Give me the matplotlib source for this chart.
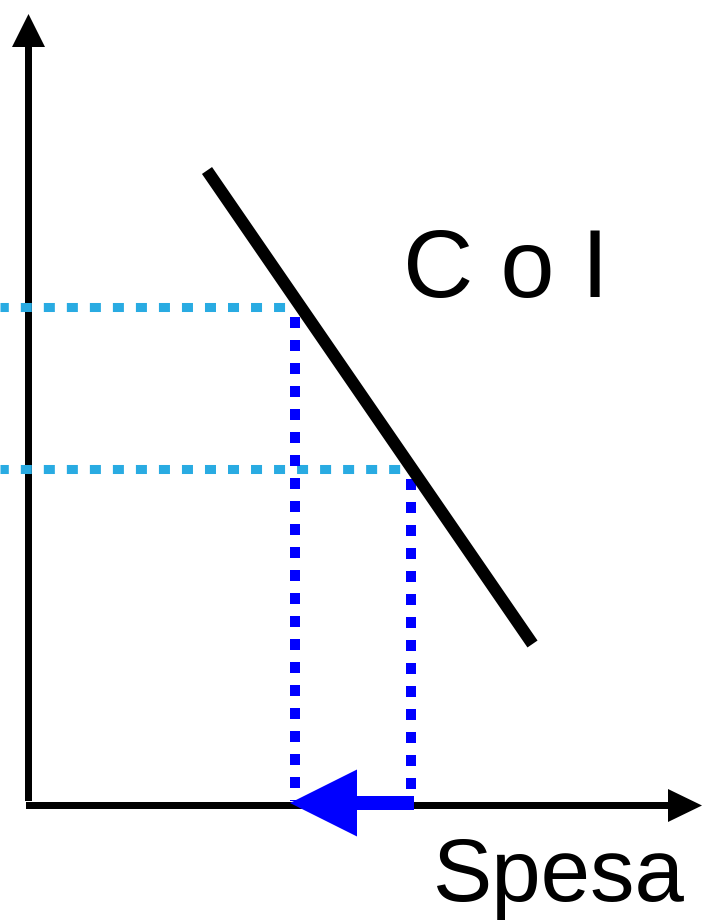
import matplotlib
matplotlib.use('Agg')
import matplotlib.pyplot as plt

# schematic values (data units: 1 unit = 100 px, origin at the axes corner)
demand_x = [1.785, 5.04]
demand_y = [6.35, 1.615]
price_levels = [4.985, 3.37]
quantities = [2.665, 3.825]
curve_label = 'C o I'
x_label = 'Spesa'

light_blue = '#29ABE2'
blue = '#0000FF'

fig = plt.figure(figsize=(7.13, 9.23), dpi=100)
ax = fig.add_axes([0, 0, 1, 1])
ax.set_xlim(-0.285, 6.845)
ax.set_ylim(-1.175, 8.055)
ax.axis('off')

# y axis with arrow head
ax.arrow(0, 0.045, 0, 7.87, width=0.07, head_width=0.33, head_length=0.33,
         length_includes_head=True, color='black', lw=0, zorder=1)

# light blue dotted price levels
for p, q in zip(price_levels, quantities):
    ax.plot([-0.285, q], [p, p], color=light_blue, lw=6.5,
            linestyle=(0.3, (1.22, 1.33)), solid_capstyle='butt', zorder=2)

# x axis with arrow head
ax.arrow(-0.025, 0, 6.76, 0, width=0.07, head_width=0.33, head_length=0.34,
         length_includes_head=True, color='black', lw=0, zorder=3)

# blue dotted verticals down to the x axis
for p, q in zip(price_levels, quantities):
    ax.plot([q, q], [p - 0.1, 0.05], color=blue, lw=7.2,
            linestyle=(0, (1.1, 1.2)), zorder=4)

# blue arrow showing the shift of spending
ax.arrow(quantities[1] + 0.03, 0.025, quantities[0] - 0.05 - quantities[1] - 0.03, 0,
         width=0.14, head_width=0.67, head_length=0.67,
         length_includes_head=True, color=blue, lw=0, zorder=5)

# demand line
ax.plot(demand_x, demand_y, color='black', lw=8.8, solid_capstyle='butt', zorder=6)

ax.text(3.745, 5.085, curve_label, fontsize=70, family=['Liberation Sans', 'DejaVu Sans'],
        ha='left', va='baseline')
ax.text(5.3, -0.955, x_label, fontsize=64, family=['Liberation Sans', 'DejaVu Sans'],
        ha='center', va='baseline')

fig.savefig('out.png', dpi=100)
